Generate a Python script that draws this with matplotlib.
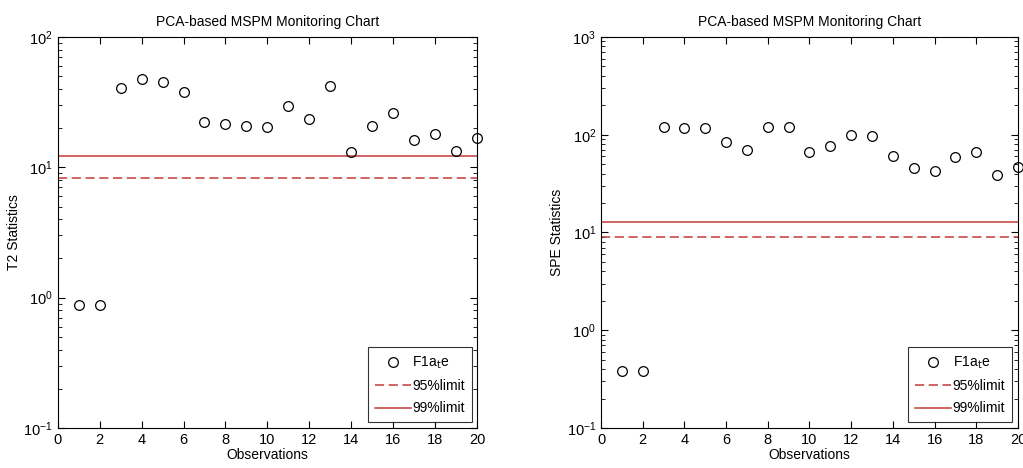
import matplotlib
matplotlib.use("Agg")
import matplotlib.pyplot as plt
from matplotlib.ticker import LogLocator, NullFormatter

plt.rcParams['font.family'] = ['Liberation Sans Narrow', 'Liberation Sans', 'DejaVu Sans']
plt.rcParams['mathtext.fontset'] = 'custom'
plt.rcParams['mathtext.rm'] = 'Liberation Sans Narrow'
plt.rcParams['mathtext.it'] = 'Liberation Sans Narrow'

observations = list(range(1, 21))
t2_values = [0.88, 0.88, 40.4, 47.4, 45.5, 37.9, 22.4, 21.5, 20.8, 20.3,
             29.8, 23.4, 42.1, 13.1, 20.8, 25.9, 16.2, 17.9, 13.3, 16.9]
t2_limit95 = 8.35
t2_limit99 = 12.3
spe_values = [0.386, 0.386, 119.6, 117, 117, 84, 69.6, 119.6, 119.6, 65.9,
              75.9, 99, 96, 61, 45.2, 42.8, 59.6, 66.4, 38.6, 46.3]
spe_limit95 = 9.06
spe_limit99 = 12.7

title = "PCA-based MSPM Monitoring Chart"
xlabel = "Observations"
series_label = "F1a$_t$e"
labels_limits = ["95%limit", "99%limit"]

red = '#c23b3b'

fig = plt.figure(figsize=(10.23, 4.68), dpi=100)
ax1 = fig.add_axes([0.0564, 0.0855, 0.41, 0.8355])
ax2 = fig.add_axes([0.5875, 0.0855, 0.4076, 0.8355])

def draw(ax, vals, l95, l99, ylim, ylabel):
    ax.set_yscale('log')
    ax.plot(observations, vals, 'o', mfc='none', mec='black', ms=7, mew=0.9,
            label=series_label, clip_on=False, zorder=3)
    ax.axhline(l95, color=red, ls=(0, (6, 3)), lw=1.1, label=labels_limits[0])
    ax.axhline(l99, color=red, ls='-', lw=1.1, label=labels_limits[1])
    ax.set_xlim(0, 20)
    ax.set_ylim(*ylim)
    ax.set_xticks(range(0, 21, 2))
    ax.yaxis.set_major_locator(LogLocator(base=10, numticks=10))
    ax.yaxis.set_minor_locator(LogLocator(base=10, subs=range(2, 10), numticks=10))
    ax.yaxis.set_minor_formatter(NullFormatter())
    ax.tick_params(which='both', direction='in', top=True, right=True, labelsize=10.5)
    ax.tick_params(which='major', length=5, width=0.8)
    ax.tick_params(which='minor', length=3, width=0.6)
    for s in ax.spines.values():
        s.set_linewidth(0.8)
    ax.set_title(title, fontsize=10, pad=8)
    ax.set_xlabel(xlabel, fontsize=10, labelpad=1)
    ax.set_ylabel(ylabel, fontsize=10, labelpad=2)
    leg = ax.legend(loc='lower right', fontsize=10, frameon=True, fancybox=False,
                    edgecolor='black', handlelength=2.6, handletextpad=0.1,
                    borderaxespad=0.4, labelspacing=0.6, borderpad=0.5)
    leg.get_frame().set_linewidth(0.8)

draw(ax1, t2_values, t2_limit95, t2_limit99, (0.1, 100), "T2 Statistics")
draw(ax2, spe_values, spe_limit95, spe_limit99, (0.1, 1000), "SPE Statistics")

fig.savefig("out.png", dpi=100)
